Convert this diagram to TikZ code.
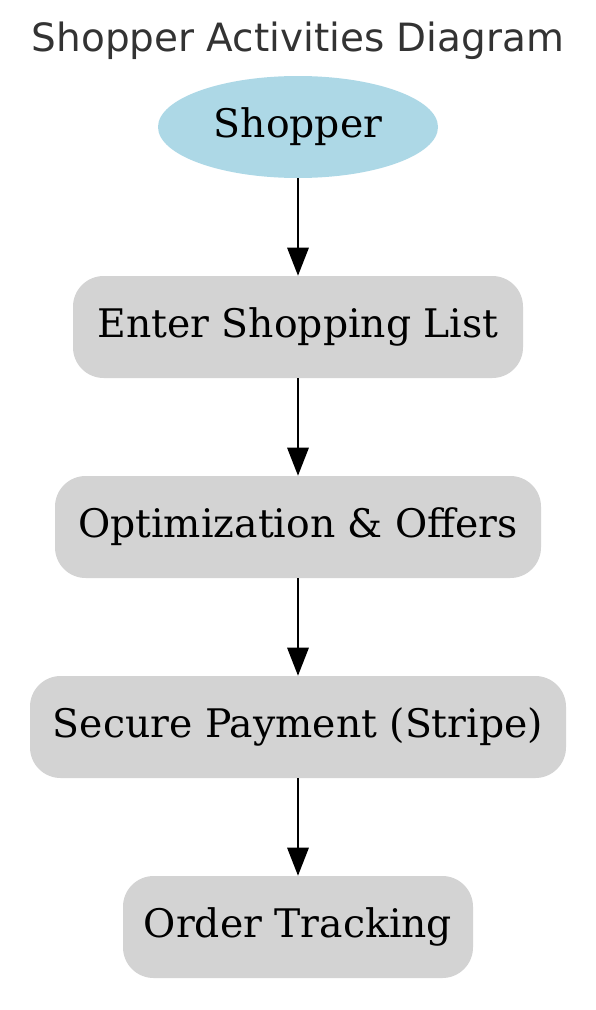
\documentclass[tikz,border=0pt]{standalone}
\usepackage{fontspec}
\usetikzlibrary{arrows.meta,shapes.geometric}
\newfontfamily\titlefont{DejaVu Sans}
\newfontfamily\labelfont{DejaVu Serif}
\definecolor{shopperblue}{HTML}{ADD8E6}
\definecolor{activitygray}{HTML}{D3D3D3}
\definecolor{titlegray}{HTML}{333333}

\begin{document}
\begin{tikzpicture}[x=0.75pt,y=0.75pt,yscale=-1,xscale=1,
  actor/.style={ellipse,fill=shopperblue,minimum width=210pt,minimum height=76.5pt,inner sep=0pt,font=\labelfont\fontsize{29.5}{35}\selectfont},
  activity/.style={rectangle,fill=activitygray,rounded corners=23pt,minimum height=76.5pt,inner sep=0pt,font=\labelfont\fontsize{29.5}{35}\selectfont},
  flow/.style={line width=1.5pt,-{Triangle[length=21pt,width=16pt]}}]
\useasboundingbox (0,0) rectangle (596,1010);

% Title
\node (title) [anchor=base,text=titlegray,font=\titlefont\fontsize{29.2}{35}\selectfont] at (298,51) {Shopper Activities Diagram};

% Nodes
\node (shopper) [actor] at (298,127) {Shopper};
\node (enterlist) [activity,minimum width=337.5pt] at (298,327) {Enter Shopping List};
\node (offers) [activity,minimum width=364.5pt] at (298,527) {Optimization \& Offers};
\node (payment) [activity,minimum width=402pt] at (298,727) {Secure Payment (Stripe)};
\node (tracking) [activity,minimum width=262.5pt] at (298,927) {Order Tracking};

% Edges
\draw [flow] (shopper) -- (enterlist);
\draw [flow] (enterlist) -- (offers);
\draw [flow] (offers) -- (payment);
\draw [flow] (payment) -- (tracking);

\end{tikzpicture}
\end{document}
